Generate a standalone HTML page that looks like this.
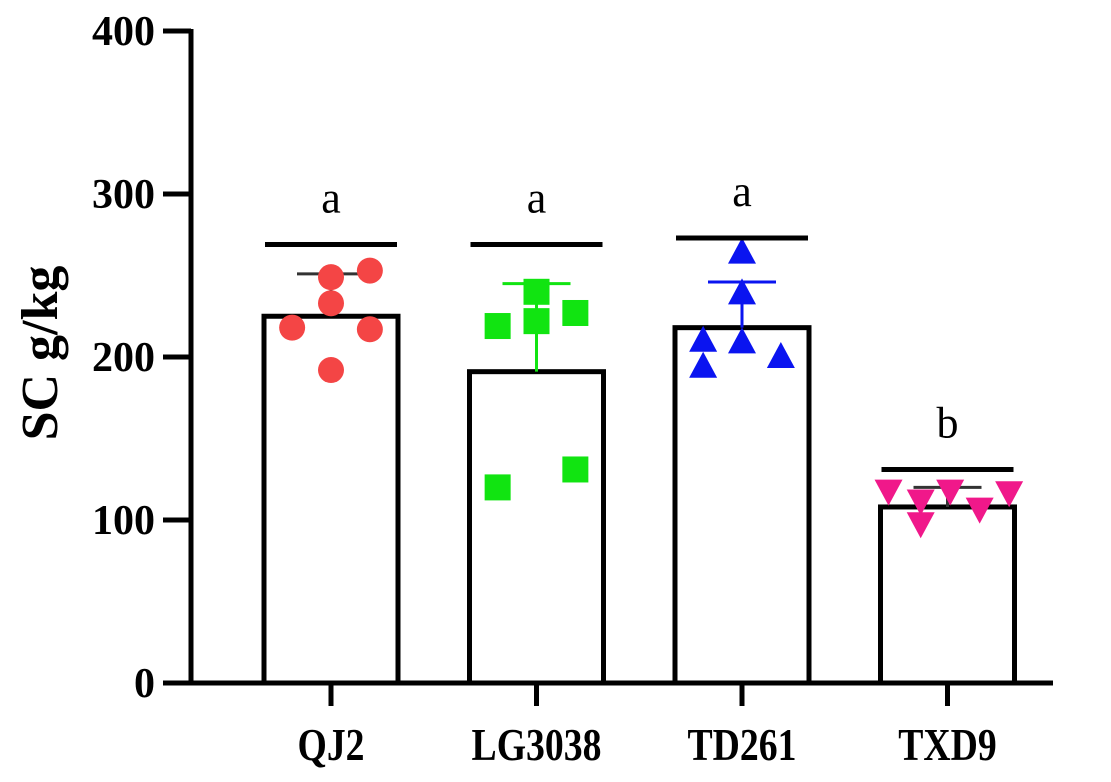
<!DOCTYPE html>
<html><head><meta charset="utf-8">
<style>
html,body{margin:0;padding:0;background:#fff;}
svg{display:block;font-family:"Liberation Serif",serif;}
</style></head>
<body>
<svg id="chart" width="1111" height="782" viewBox="0 0 1111 782" xmlns="http://www.w3.org/2000/svg"></svg>
<script>
const categories = ["QJ2","LG3038","TD261","TXD9"];
const means = [225, 191, 218, 108];
const errTop = [251, 245, 246, 120];
const sigHeight = [269, 269, 273, 131];
const sigLetters = ["a","a","a","b"];
const points = [
  [249,253,233,218,217,192],
  [219,240,222,227,120,131],
  [264,239,209,210,194,200],
  [118,112,98,118,107,117]
];
const jitter = [
  [0,0.29,0,-0.29,0.29,0],
  [-0.29,0,0,0.29,-0.29,0.29],
  [0,0,0,-0.29,-0.29,0.29],
  [-0.44,-0.2,-0.2,0.02,0.24,0.46]
];
const yTicks = [0,100,200,300,400];
const colors = ["#f44545","#11e411","#0a14f0","#f0188a"];
const errColors = ["#333","#11e411","#0a14f0","#333"];
const shapes = ["circle","square","triangle","tridown"];

const NS="http://www.w3.org/2000/svg";
const svg=document.getElementById('chart');
const y0=683, pxPer=1.63, axX=191;
const yS=v=>y0-v*pxPer;
const xC=i=>331+i*205.5;
const barW=134;
function mk(t,a){const e=document.createElementNS(NS,t);for(const k in a)e.setAttribute(k,a[k]);svg.appendChild(e);return e;}

categories.forEach((c,i)=>{
  const b=mk('rect',{x:xC(i)-barW/2,y:yS(means[i]),width:barW,height:y0-yS(means[i]),fill:'#fff',stroke:'#000','stroke-width':5});
  
  
});
categories.forEach((c,i)=>{
  const g=mk('path',{d:`M${xC(i)} ${yS(means[i])}V${yS(errTop[i])}M${xC(i)-34} ${yS(errTop[i])}H${xC(i)+34}`,stroke:errColors[i],'stroke-width':3,fill:'none'});
  
  
});
points.forEach((arr,i)=>{
  arr.forEach((v,j)=>{
    const cx=xC(i)+jitter[i][j]*barW, cy=yS(v);
    let e;
    if(shapes[i]==='circle') e=mk('circle',{cx,cy,r:13,fill:colors[i]});
    else if(shapes[i]==='square') e=mk('rect',{x:cx-13,y:cy-13,width:26,height:26,fill:colors[i]});
    else if(shapes[i]==='triangle') e=mk('polygon',{points:`${cx},${cy-15} ${cx+14},${cy+11} ${cx-14},${cy+11}`,fill:colors[i]});
    else e=mk('polygon',{points:`${cx},${cy+15} ${cx+14},${cy-11} ${cx-14},${cy-11}`,fill:colors[i]});
    
    
  });
});
categories.forEach((c,i)=>{
  const l=mk('line',{x1:xC(i)-66,x2:xC(i)+66,y1:yS(sigHeight[i]),y2:yS(sigHeight[i]),stroke:'#000','stroke-width':5});
  
  
  const t=mk('text',{x:xC(i),y:yS(sigHeight[i])-32,'text-anchor':'middle','font-size':44,fill:'#000'});
  t.textContent=sigLetters[i];
  
  
});
const ya=mk('line',{x1:axX,x2:axX,y1:29,y2:685,stroke:'#000','stroke-width':5});


const xa=mk('line',{x1:axX-2,x2:1053,y1:683,y2:683,stroke:'#000','stroke-width':5});


yTicks.forEach(v=>{
  const t=mk('line',{x1:163,x2:axX,y1:yS(v),y2:yS(v),stroke:'#000','stroke-width':5});
  
  
  const l=mk('text',{x:155,y:yS(v)+14,'text-anchor':'end','font-size':42,'font-weight':'bold'});
  l.textContent=v;
  
  
});
categories.forEach((c,i)=>{
  const t=mk('line',{x1:xC(i),x2:xC(i),y1:683,y2:706,stroke:'#000','stroke-width':5});
  
  
  const l=mk('text',{x:0,y:0,transform:`translate(${xC(i)} 760) scale(0.82 1)`,'text-anchor':'middle','font-size':46,'font-weight':'bold'});
  l.textContent=c;
  
  
});
const yt=mk('text',{x:0,y:0,transform:'translate(57 353) rotate(-90)','text-anchor':'middle','font-size':52,'font-weight':'bold'});
yt.textContent='SC g/kg';


</script>
</body></html>
